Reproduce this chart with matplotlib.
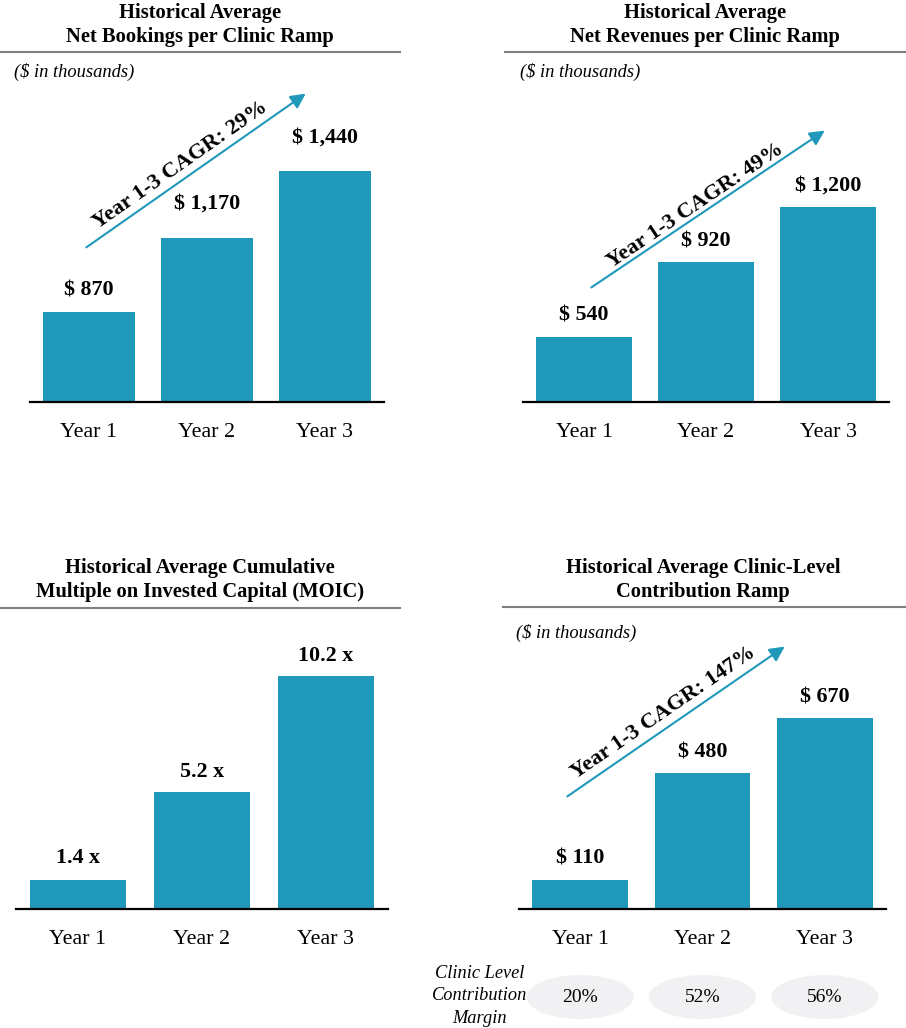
import matplotlib as mpl
mpl.use('Agg')

import matplotlib.pyplot as plt
from matplotlib.patches import Ellipse

plt.rcParams['font.family'] = ['Liberation Serif', 'DejaVu Serif']

# data
years = ['Year 1', 'Year 2', 'Year 3']
bookings = [870, 1170, 1440]
revenues = [540, 920, 1200]
moic = [1.4, 5.2, 10.2]
contribution = [110, 480, 670]
margins = ['20%', '52%', '56%']

bookings_cagr = 'Year 1-3 CAGR: 29%'
revenues_cagr = 'Year 1-3 CAGR: 49%'
contribution_cagr = 'Year 1-3 CAGR: 147%'

teal = '#1f98b9'
W, H = 906, 1028

fig = plt.figure(figsize=(W / 100, H / 100), dpi=100)


def fx(px):
    return px / W


def fy(py):
    return 1 - py / H


def add_panel(left, right, top, bottom, ylim):
    ax = fig.add_axes([fx(left), fy(bottom), fx(right - left), (bottom - top) / H])
    ax.set_xlim(-0.5, 2.5)
    ax.set_ylim(*ylim)
    for s in ['top', 'right', 'left']:
        ax.spines[s].set_visible(False)
    ax.spines['bottom'].set_linewidth(1.6)
    ax.spines['bottom'].set_color('black')
    ax.set_yticks([])
    ax.set_xticks(range(len(years)))
    ax.set_xticklabels(years, fontsize=15.8)
    ax.tick_params(axis='x', length=0, pad=15)
    ax.patch.set_alpha(0)
    return ax


def bars(ax, vals, fmt, gaps):
    ax.bar(range(len(vals)), vals, width=0.78, color=teal)
    for i, v in enumerate(vals):
        ax.annotate(fmt(v), (i, v), xytext=(0, gaps[i]), textcoords='offset pixels',
                    ha='center', va='center', fontsize=15.8, fontweight='bold')


def header(lines, cx, y1, rule_x0, rule_x1, rule_y):
    fig.text(fx(cx), fy(y1), lines[0], ha='center', va='center',
             fontsize=14.8, fontweight='bold')
    fig.text(fx(cx), fy(y1 + 24), lines[1], ha='center', va='center',
             fontsize=14.8, fontweight='bold')
    fig.add_artist(plt.Line2D([fx(rule_x0), fx(rule_x1)], [fy(rule_y), fy(rule_y)],
                              color='#7f7f7f', lw=1.5))


def cagr(text, x0, y0, x1, y1, tx, ty, angle):
    fig.add_artist(mpl.patches.FancyArrowPatch(
        (fx(x0), fy(y0)), (fx(x1), fy(y1)), transform=fig.transFigure,
        arrowstyle='-|>,head_length=9,head_width=4.5', color=teal, lw=1.5))
    fig.text(fx(tx), fy(ty), text, ha='center', va='center', rotation=angle,
             rotation_mode='anchor', fontsize=16, fontweight='bold')


def dollars(v):
    return '$ {:,}'.format(v)


# top left: net bookings
header(['Historical Average', 'Net Bookings per Clinic Ramp'], 200, 13, 0, 400, 52)
fig.text(fx(14), fy(72), '($ in thousands)', ha='left', va='center',
         fontsize=13.3, style='italic')
ax1 = add_panel(30, 384, 100, 402, (505, 1728))
bars(ax1, bookings, dollars, [21, 34, 34])
cagr(bookings_cagr, 84, 249, 308, 92, 180, 165, 35)

# top right: net revenues
header(['Historical Average', 'Net Revenues per Clinic Ramp'], 705, 13, 505, 906, 52)
fig.text(fx(520), fy(72), '($ in thousands)', ha='left', va='center',
         fontsize=13.3, style='italic')
ax2 = add_panel(523, 889, 100, 402, (210, 1743))
bars(ax2, revenues, dollars, [21, 21, 21])
cagr(revenues_cagr, 589, 289, 827, 129, 695, 206, 34)

# bottom left: MOIC
header(['Historical Average Cumulative', 'Multiple on Invested Capital (MOIC)'],
       200, 568, 0, 400, 608)
ax3 = add_panel(16, 388, 620, 909, (0.15, 12.6))
bars(ax3, moic, lambda v: '{:.1f} x'.format(v), [22, 20, 20])

# bottom right: clinic-level contribution
header(['Historical Average Clinic-Level', 'Contribution Ramp'], 703, 568, 503, 906, 607)
fig.text(fx(516), fy(633), '($ in thousands)', ha='left', va='center',
         fontsize=13.3, style='italic')
ax4 = add_panel(519, 886, 620, 909, (10, 1010))
bars(ax4, contribution, dollars, [22, 21, 21])
cagr(contribution_cagr, 565, 798, 787, 645, 663, 713, 34.5)

# margin row
axm = fig.add_axes([fx(519), fy(1019), fx(886 - 519), 44 / H])
axm.set_xlim(-0.5, 2.5)
axm.set_ylim(0, 1)
axm.axis('off')
for i, m in enumerate(margins):
    axm.add_patch(Ellipse((i, 0.5), 107 / 122.3, 1.0, color='#f1f1f3', lw=0))
    axm.text(i, 0.5, m, ha='center', va='center', fontsize=14)
fig.text(fx(480), fy(996), 'Clinic Level\nContribution\nMargin', ha='center',
         va='center', fontsize=13.2, style='italic', linespacing=1.4)

plt.savefig('out.png', dpi=100)
